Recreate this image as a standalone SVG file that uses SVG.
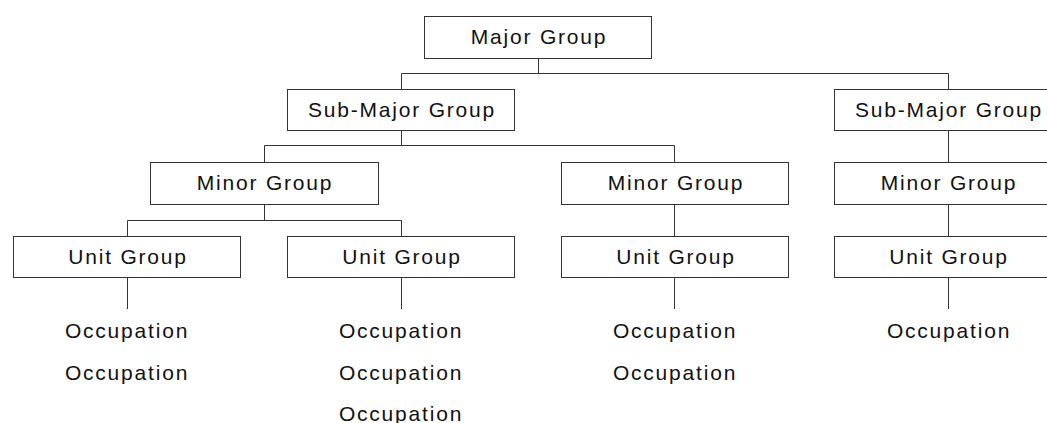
<svg xmlns="http://www.w3.org/2000/svg" width="1047" height="423" viewBox="0 0 1047 423">
<style>
rect.box{fill:#fff;stroke:#333;stroke-width:1}
text{font-family:"Liberation Sans",Arial,sans-serif;font-size:21px;letter-spacing:1.8px;fill:#111;text-anchor:middle}
#connectors path{fill:none;stroke:#333;stroke-width:1}
</style>
<rect width="1047" height="423" fill="#fff"/>
<g id="connectors">
<path d="M538.5 58V73.5M401.5 89V73.5H948.5V89"/>
<path d="M401.5 130V145.5M264.5 162V145.5H674.5V162"/>
<path d="M948.5 131V162"/>
<path d="M264.5 204V220.5M127.5 236V220.5H401.5V236"/>
<path d="M674.5 204V236"/>
<path d="M948.5 204V236"/>
<path d="M127.5 277V309M401.5 277V309M674.5 277V309M948.5 277V309"/>
</g>
<g id="major"><rect class="box" x="424.5" y="16.5" width="227" height="42"/><text x="539" y="44">Major Group</text></g>
<g id="submajor1"><rect class="box" x="287.5" y="89.5" width="227" height="41"/><text x="402" y="117">Sub-Major Group</text></g>
<g id="submajor2"><rect class="box" x="834.5" y="89.5" width="228" height="41"/><text x="949" y="117">Sub-Major Group</text></g>
<g id="minor1"><rect class="box" x="150.5" y="162.5" width="228" height="42"/><text x="265" y="190">Minor Group</text></g>
<g id="minor2"><rect class="box" x="561.5" y="162.5" width="227" height="42"/><text x="676" y="190">Minor Group</text></g>
<g id="minor3"><rect class="box" x="834.5" y="162.5" width="228" height="42"/><text x="949" y="190">Minor Group</text></g>
<g id="unit1"><rect class="box" x="13.5" y="236.5" width="227" height="41"/><text x="128" y="264">Unit Group</text></g>
<g id="unit2"><rect class="box" x="287.5" y="236.5" width="227" height="41"/><text x="402" y="264">Unit Group</text></g>
<g id="unit3"><rect class="box" x="561.5" y="236.5" width="227" height="41"/><text x="676" y="264">Unit Group</text></g>
<g id="unit4"><rect class="box" x="834.5" y="236.5" width="228" height="41"/><text x="949" y="264">Unit Group</text></g>
<g id="occ1"><text x="127" y="338">Occupation</text><text x="127" y="380">Occupation</text></g>
<g id="occ2"><text x="401" y="338">Occupation</text><text x="401" y="380">Occupation</text><text x="401" y="421">Occupation</text></g>
<g id="occ3"><text x="675" y="338">Occupation</text><text x="675" y="380">Occupation</text></g>
<g id="occ4"><text x="949" y="338">Occupation</text></g>
</svg>
